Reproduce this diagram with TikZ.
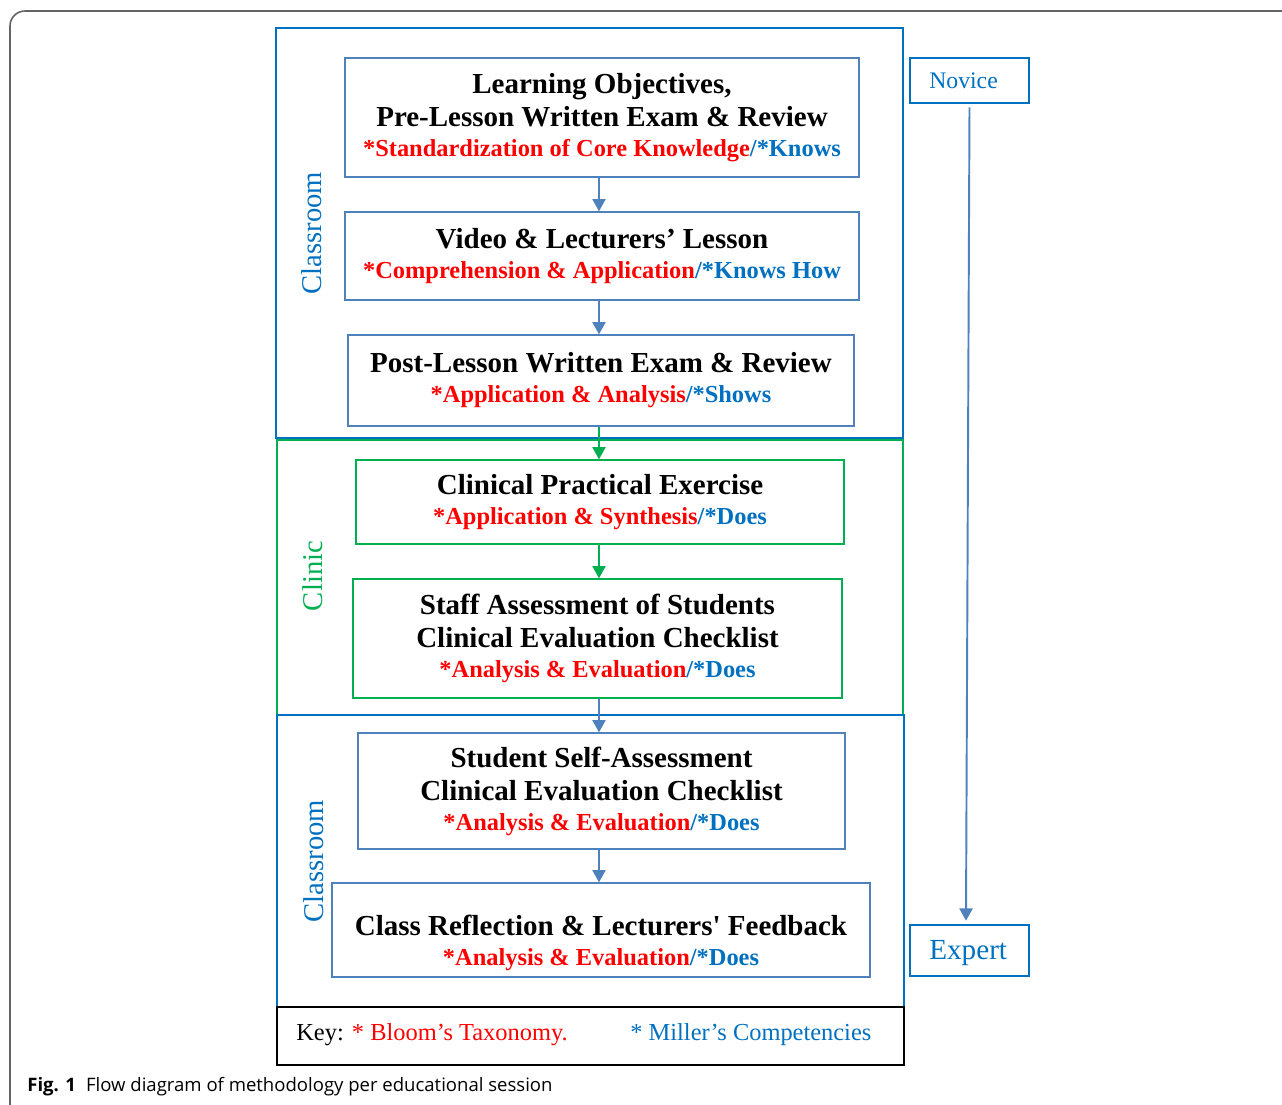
\documentclass[tikz,border=0pt]{standalone}
\usepackage{fontspec}
\setmainfont{Liberation Serif}
\newfontfamily\capfont{Open Sans}
\usetikzlibrary{positioning, arrows.meta}

\definecolor{bloomred}{RGB}{255,0,0}
\definecolor{millerblue}{RGB}{0,112,192}
\definecolor{boxblue}{RGB}{79,129,189}
\definecolor{roomblue}{RGB}{0,112,192}
\definecolor{clinicgreen}{RGB}{0,176,80}
\definecolor{framegray}{RGB}{100,100,100}

\newcommand{\tax}[2]{{\fontsize{13.9}{17.6}\selectfont\textcolor{bloomred}{*#1}\textcolor{millerblue}{/*#2}}}

\begin{document}
\begin{tikzpicture}[
    x=0.02cm, y=-0.02cm,
    stagebox/.style={draw=boxblue, line width=0.8pt, align=center, inner sep=0pt,
        font=\bfseries\fontsize{16.5}{18.8}\selectfont,
        execute at begin node=\rule{0pt}{13.8pt}},
    clinicbox/.style={stagebox, draw=clinicgreen},
    room/.style={line width=0.9pt},
    side/.style={rotate=90, font=\fontsize{16.3}{18}\selectfont},
    level/.style={draw=roomblue, line width=0.9pt, text=millerblue, minimum width=2.38cm},
    flow/.style={draw=boxblue, line width=1.1pt, -{Triangle[width=7.5pt,length=7pt]}},
    greenflow/.style={flow, draw=clinicgreen}
]
\useasboundingbox (0,0) rectangle (1282,1105);
\draw[framegray, line width=0.9pt, rounded corners=0.3cm] (10,11) rectangle (1330,1150);

% session blocks
\draw[room, roomblue] (276,28) rectangle (903,438);
\draw[room, clinicgreen] (277,440) rectangle (903,715);
\draw[room, roomblue] (277,715) rectangle (904,1007);
\node[draw=black, line width=0.8pt, minimum width=12.54cm, minimum height=1.16cm, inner sep=0pt] (key) at (590.5,1036) {};

\node[side, text=millerblue] (room1) at (312,233) {Classroom};
\node[side, text=clinicgreen] (clinic) at (313,576) {Clinic};
\node[side, text=millerblue] (room2) at (314,861) {Classroom};

\coordinate (axis) at (599,0);

\node[stagebox, minimum width=10.28cm, minimum height=2.38cm] (objectives) at (602,117.5)
    {Learning Objectives,\\ Pre-Lesson Written Exam \& Review\\[-1.7pt] \tax{Standardization of Core Knowledge}{Knows}};
\node[stagebox, minimum width=10.28cm, minimum height=1.76cm] (lesson) at (602,256)
    {Video \& Lecturers’ Lesson\\[-1.7pt] \tax{Comprehension \& Application}{Knows How}};
\node[stagebox, minimum width=10.12cm, minimum height=1.82cm] (postexam) at (601,380.5)
    {Post-Lesson Written Exam \& Review\\[-1.7pt] \tax{Application \& Analysis}{Shows}};
\node[clinicbox, minimum width=9.76cm, minimum height=1.68cm] (practical) at (600,502)
    {Clinical Practical Exercise\\[-1.7pt] \tax{Application \& Synthesis}{Does}};
\node[clinicbox, minimum width=9.78cm, minimum height=2.38cm] (staff) at (597.5,638.5)
    {Staff Assessment of Students\\ Clinical Evaluation Checklist\\[-1.7pt] \tax{Analysis \& Evaluation}{Does}};
\node[stagebox, minimum width=9.74cm, minimum height=2.32cm] (self) at (601.5,791)
    {Student Self-Assessment\\ Clinical Evaluation Checklist\\[-1.7pt] \tax{Analysis \& Evaluation}{Does}};
\node[stagebox, minimum width=10.76cm, minimum height=1.88cm] (reflection) at (601,930)
    {\rule{0pt}{26pt}Class Reflection \& Lecturers\textquotesingle\ Feedback\\[-1.7pt] \tax{Analysis \& Evaluation}{Does}};

\draw[flow] (objectives.south -| axis) -- (lesson.north -| axis);
\draw[flow] (lesson.south -| axis) -- (postexam.north -| axis);
\draw[greenflow] (postexam.south -| axis) -- (practical.north -| axis);
\draw[greenflow] (practical.south -| axis) -- (staff.north -| axis);
\draw[flow] (staff.south -| axis) -- (self.north -| axis);
\draw[flow] (self.south -| axis) -- (reflection.north -| axis);

% novice to expert scale
\node[level, minimum height=0.9cm, font=\fontsize{13.5}{16}\selectfont] (novice) at (969.5,80.5) {Novice\hspace*{6.8pt}};
\node[level, minimum height=1.02cm, font=\fontsize{16.6}{18}\selectfont] (expert) at (969.5,950.5) {\rule{0pt}{14pt}Expert\hspace*{1.5pt}};
\draw[flow] ([yshift=-2pt]novice.south) -- ([xshift=-2pt,yshift=2pt]expert.north);

% key line
\node[anchor=west, inner sep=0pt, font=\fontsize{13.9}{16}\selectfont] (bloom) at (296,1035)
    {Key: \textcolor{bloomred}{* Bloom’s Taxonomy.}};
\node[anchor=west, inner sep=0pt, font=\fontsize{13.9}{16}\selectfont, text=millerblue] (miller) at (630,1035)
    {* Miller’s Competencies};

\node[anchor=west, inner sep=0pt, font=\capfont\fontsize{10.55}{12}\selectfont] (caption) at (27,1087)
    {\textbf{Fig. 1}\hspace{0.55em}Flow diagram of methodology per educational session};
\end{tikzpicture}
\end{document}
